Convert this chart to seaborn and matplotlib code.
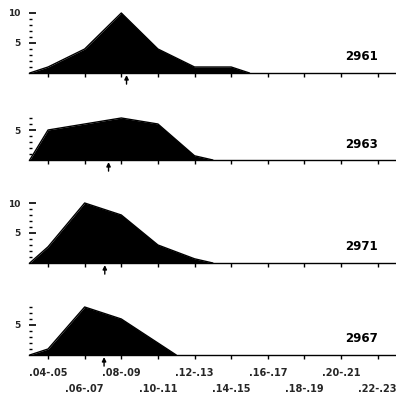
import matplotlib
matplotlib.use("Agg")
import matplotlib.pyplot as plt
import numpy as np
import pandas as pd
import seaborn as sns
from matplotlib.ticker import FixedLocator

# ---- data ----
bins = [".04-.05", ".06-.07", ".08-.09", ".10-.11", ".12-.13",
        ".14-.15", ".16-.17", ".18-.19", ".20-.21", ".22-.23"]
samples = ["2961", "2963", "2971", "2967"]
counts_2961 = [1, 4, 10, 4, 1, 1]
counts_2963 = [5, 6, 7, 6, 0.7]
counts_2971 = [2.7, 10, 8, 3, 0.7]
counts_2967 = [1, 8, 6, 2]
ytop = [10, 7, 10, 8]

series = [counts_2961, counts_2963, counts_2971, counts_2967]

sns.set_theme(style="white")
plt.rcParams["font.family"] = ["DejaVu Sans"]

W, H = 396, 401
fig = plt.figure(figsize=(W / 100, H / 100), dpi=100)

baselines = [73, 160, 263, 355]   # pixel rows of each panel's axis
left_px, right_px = 29, 396
panel_h = 66

for k, (name, vals, top, base) in enumerate(zip(samples, series, ytop, baselines)):
    ax = fig.add_axes([left_px / W, (H - base) / H, (right_px - left_px) / W, panel_h / H])
    n = len(vals)
    df = pd.DataFrame({"pos": [-0.5] + list(range(n)) + [n - 0.5],
                       "count": [0] + list(vals) + [0]})
    sns.lineplot(data=df, x="pos", y="count", color="black", lw=1, ax=ax)
    ax.fill_between(df["pos"], 0, df["count"], color="black", lw=0)

    ax.set_xlim(-0.52, 9.5)
    ax.set_ylim(0, 11)
    ax.set_xlabel("")
    ax.set_ylabel("")
    for s in ["top", "right", "left"]:
        ax.spines[s].set_visible(False)
    ax.spines["bottom"].set_color("black")
    ax.spines["bottom"].set_linewidth(1)

    # x ticks
    ax.set_xticks(range(len(bins)))
    if k == len(samples) - 1:
        labs = [b if i % 2 == 0 else "\n" + b for i, b in enumerate(bins)]
        ax.set_xticklabels(labs, fontsize=7, fontweight="bold", linespacing=1.75)
    else:
        ax.set_xticklabels([])
    ax.tick_params(axis="x", direction="out", length=3, width=1, color="black",
                   bottom=True, pad=6)

    # y ticks: major at 5,10, minor at each unit
    majors = [v for v in (5, 10) if v <= top]
    ax.yaxis.set_major_locator(FixedLocator(majors))
    ax.yaxis.set_minor_locator(FixedLocator(list(range(1, top + 1))))
    ax.set_yticklabels([str(v) for v in majors], fontsize=6.5, fontweight="bold")
    ax.tick_params(axis="y", which="major", direction="in", length=5, width=1.2,
                   color="black", left=True, pad=6)
    ax.tick_params(axis="y", which="minor", direction="in", length=2, width=1,
                   color="black", left=True)

    # mean arrow
    mean = np.sum(np.arange(n) * np.array(vals)) / np.sum(vals)
    ax.annotate("", xy=(mean, 0), xytext=(0, -8), textcoords="offset points",
                arrowprops=dict(arrowstyle="-|>", color="black", lw=1,
                                shrinkA=0, shrinkB=1.5, mutation_scale=6),
                annotation_clip=False)

    ax.text(0.951, 16 / panel_h, name, transform=ax.transAxes, ha="right",
            va="center", fontsize=8.5, fontweight="bold", color="black")

fig.savefig("out.png", dpi=100)
